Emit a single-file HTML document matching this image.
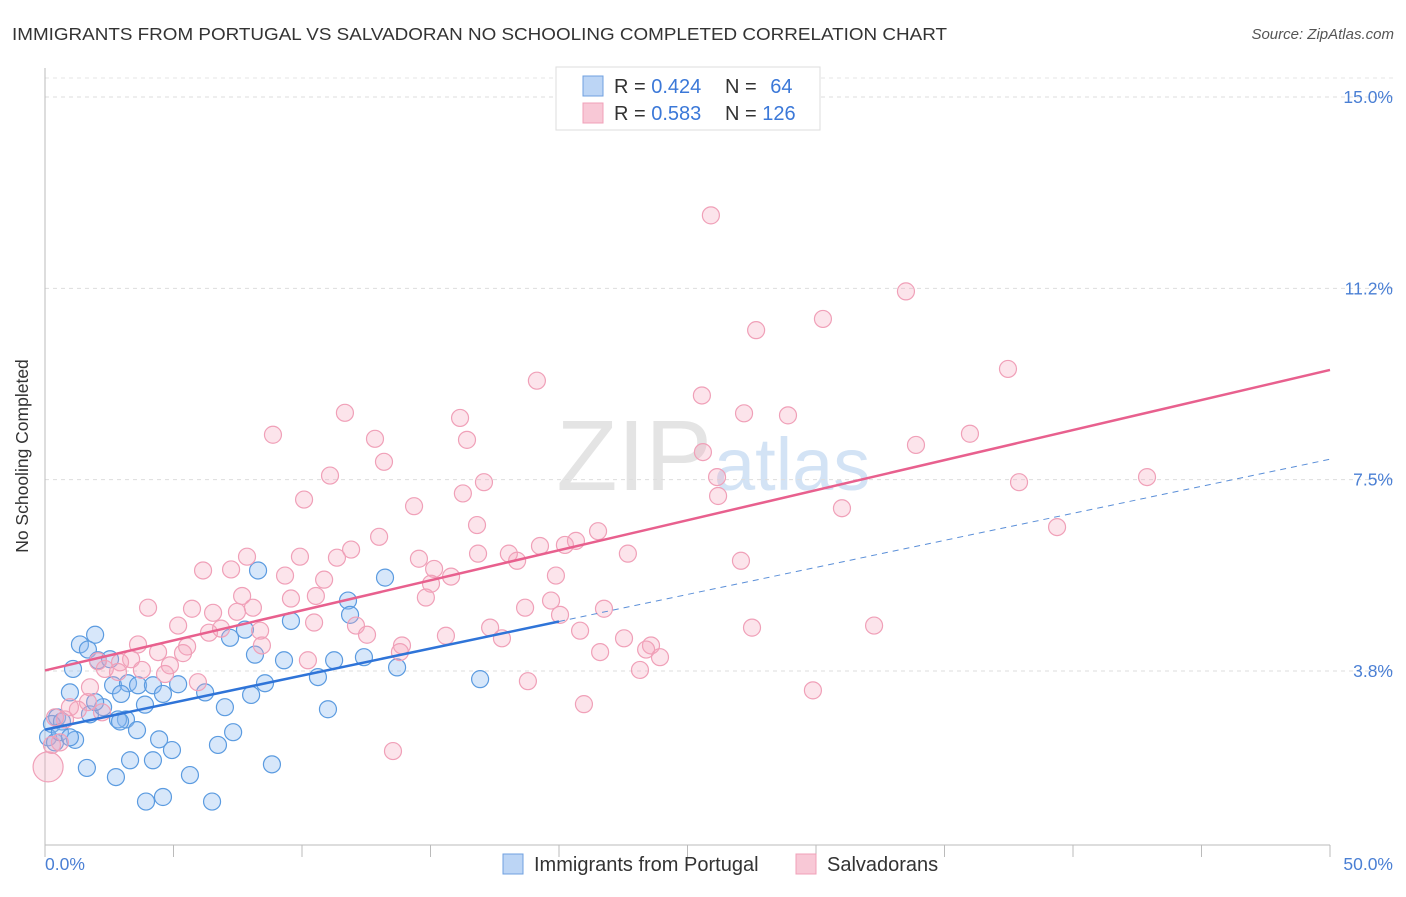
<!DOCTYPE html>
<html><head><meta charset="utf-8"><style>
body{margin:0;background:#fff;font-family:"Liberation Sans",sans-serif}
svg text{font-family:"Liberation Sans",sans-serif}
</style></head><body>
<svg id="chart" width="1406" height="892">
<text x="12" y="40" font-size="17.5" fill="#333" textLength="935" lengthAdjust="spacingAndGlyphs">IMMIGRANTS FROM PORTUGAL VS SALVADORAN NO SCHOOLING COMPLETED CORRELATION CHART</text>
<text x="1394" y="39" font-size="15" fill="#555" text-anchor="end" font-style="italic">Source: ZipAtlas.com</text>
<text x="712" y="490" font-size="100" fill="#e4e4e4" text-anchor="end" font-family="Liberation Serif">ZIP</text>
<text x="714" y="490" font-size="74" fill="#d3e3f5">atlas</text>
<g id="grid"></g>
<line x1="45" y1="68" x2="45" y2="845" stroke="#bbb"/>
<line x1="45" y1="845" x2="1330" y2="845" stroke="#bbb"/>
<g id="xt"></g>
<text x="28" y="456" font-size="17.5" fill="#333" text-anchor="middle" transform="rotate(-90 28 456)">No Schooling Completed</text>
<text x="45" y="870" font-size="17.5" fill="#4a7fd4">0.0%</text>
<text x="1393" y="870" font-size="17.5" fill="#4a7fd4" text-anchor="end">50.0%</text>
<g id="pts"></g>
<g id="lines"></g>
<g>
<rect x="556" y="67" width="264" height="63" fill="#fff" stroke="#ddd"/>
<rect x="583" y="76" width="20" height="20" fill="#bcd5f5" stroke="#6fa0e0"/>
<rect x="583" y="103" width="20" height="20" fill="#f8c8d6" stroke="#f0a0b8"/>
<text x="614" y="93" font-size="20" fill="#333">R = <tspan fill="#3b78d8">0.424</tspan></text>
<text x="725" y="93" font-size="20" fill="#333">N = <tspan fill="#3b78d8" dx="8">64</tspan></text>
<text x="614" y="120" font-size="20" fill="#333">R = <tspan fill="#3b78d8">0.583</tspan></text>
<text x="725" y="120" font-size="20" fill="#333">N = <tspan fill="#3b78d8">126</tspan></text>
</g>
<g>
<rect x="503" y="854" width="20" height="20" fill="#bcd5f5" stroke="#6fa0e0"/>
<text x="534" y="871" font-size="20" fill="#333">Immigrants from Portugal</text></g>
<g>
<rect x="796" y="854" width="20" height="20" fill="#f8c8d6" stroke="#f0a0b8"/>
<text x="827" y="871" font-size="20" fill="#333">Salvadorans</text></g>
</svg>
<script>
const yTicks=[3.75,7.5,11.25,15];
const yTickLabels=["3.8%","7.5%","11.2%","15.0%"];
const blueX=[1.95,1.36,1.67,2.06,1.09,0.97,0.47,0.27,0.12,0.39,1.17,0.66,1.75,2.26,2.65,3.23,2.96,3.15,2.84,3.62,3.89,4.20,4.59,5.18,6.23,7.20,8.29,8.17,7.78,9.57,9.30,8.56,8.02,7.00,7.32,6.73,5.64,6.50,4.59,3.93,3.31,2.76,1.63,4.20,4.44,4.94,3.58,11.25,10.62,11.01,8.83,11.79,11.87,12.41,13.70,13.23,16.93,2.53,0.58,0.97,2.92,1.95];
const blueY=[4.46,4.27,4.17,3.96,3.79,3.33,2.84,2.71,2.45,2.35,2.40,2.76,2.90,3.04,3.47,3.51,3.30,2.80,2.80,3.47,3.09,3.47,3.30,3.49,3.33,4.40,5.72,4.07,4.56,4.73,3.96,3.51,3.28,3.04,2.55,2.30,1.71,1.19,1.28,1.19,2.00,1.67,1.85,2.00,2.41,2.20,2.59,3.96,3.63,3.00,1.92,5.13,4.85,4.02,3.82,5.58,3.59,3.98,2.55,2.45,2.76,3.14];
const pinkX=[25.91,33.50,27.67,30.27,19.14,37.47,25.56,27.20,28.91,11.67,16.15,8.87,12.84,16.42,13.19,11.09,10.08,14.36,16.26,17.08,25.60,26.15,26.19,35.99,33.89,42.88,37.90,31.01,39.38,16.81,21.52,20.66,20.23,19.26,16.85,18.05,18.37,22.68,27.08,19.88,13.00,11.91,11.36,9.92,7.86,6.15,7.24,9.34,10.86,14.55,15.14,15.80,15.02,7.67,9.57,10.54,4.01,5.72,6.54,7.47,8.09,14.82,18.68,19.69,21.75,20.04,5.18,6.38,6.85,8.37,10.47,12.10,12.53,15.60,17.32,17.78,20.82,22.53,23.58,27.51,32.26,3.62,4.40,5.53,5.37,13.89,13.81,8.44,10.23,3.35,2.92,2.06,2.33,2.84,3.77,4.86,5.95,4.67,21.60,23.39,23.93,23.15,18.79,20.97,29.88,13.54,1.67,1.28,0.97,2.22,1.75,0.78,0.39,0.58,0.27,0.12];
const pinkY=[12.68,11.19,10.43,10.65,9.44,9.67,9.15,8.80,8.76,8.81,8.71,8.38,8.30,8.28,7.85,7.58,7.11,6.98,7.23,7.45,8.04,7.55,7.18,8.40,8.18,7.55,7.45,6.94,6.57,6.61,6.49,6.30,6.22,6.20,6.05,6.05,5.91,6.05,5.91,5.62,6.38,6.13,5.97,5.99,5.99,5.72,5.74,5.62,5.54,5.95,5.75,5.60,5.46,5.22,5.17,5.22,4.99,4.97,4.89,4.91,4.99,5.19,4.99,5.13,4.97,4.85,4.64,4.50,4.58,4.54,4.70,4.64,4.46,4.44,4.60,4.39,4.54,4.39,4.25,4.60,4.64,4.27,4.12,4.23,4.10,4.25,4.12,4.25,3.96,3.98,3.92,3.94,3.79,3.73,3.77,3.86,3.53,3.69,4.12,4.17,4.02,3.77,3.55,3.10,3.37,2.18,3.14,2.99,3.04,2.94,3.43,2.80,2.84,2.35,2.30,1.87];
const pinkTrend=[3.76,9.65];
const blueTrend=[2.60,7.90];
const blueSolidEnd=20.0;
const NS="http://www.w3.org/2000/svg";
const sx=v=>45+v*25.7;
const sy=v=>862.3-v*51.02;
function mk(tag,attrs,parent){const e=document.createElementNS(NS,tag);for(const k in attrs)e.setAttribute(k,attrs[k]);document.getElementById(parent).appendChild(e);return e;}
yTicks.forEach((t,i)=>{
 const l=mk('line',{x1:45,x2:1393,y1:sy(t),y2:sy(t),stroke:'#ddd','stroke-dasharray':'4,4'},'grid');
 
 
 const tx=mk('text',{x:1393,y:sy(t)+6,'font-size':17.5,fill:'#4a7fd4','text-anchor':'end'},'grid');
 tx.textContent=yTickLabels[i];
 
 
});
const topLine=mk('line',{x1:45,x2:1393,y1:78,y2:78,stroke:'#e4e4e4','stroke-dasharray':'4,4'},'grid');


for(let i=0;i<=10;i++){
 const l=mk('line',{x1:sx(i*5),x2:sx(i*5),y1:845,y2:857,stroke:'#bbb'},'xt');
 
 
}
blueX.forEach((x,i)=>{
 const c=mk('circle',{cx:sx(x),cy:sy(blueY[i]),r:8.5,fill:'rgba(140,185,240,0.35)',stroke:'#5b9be0','stroke-width':1.2},'pts');
 
 
});
pinkX.forEach((x,i)=>{
 const big=i===pinkX.length-1;
 const c=mk('circle',{cx:sx(x),cy:sy(pinkY[i]),r:big?15:8.5,fill:'rgba(245,165,190,0.3)',stroke:'#f0a0b8','stroke-width':1.2},'pts');
 
 
});
const bAt=x=>blueTrend[0]+(blueTrend[1]-blueTrend[0])*x/50;
const pl=mk('line',{x1:sx(0),y1:sy(pinkTrend[0]),x2:sx(50),y2:sy(pinkTrend[1]),stroke:'#e8608e','stroke-width':2.5},'lines');


const bl=mk('line',{x1:sx(0),y1:sy(bAt(0)),x2:sx(blueSolidEnd),y2:sy(bAt(blueSolidEnd)),stroke:'#2f74d8','stroke-width':2.5},'lines');


const bd=mk('line',{x1:sx(blueSolidEnd),y1:sy(bAt(blueSolidEnd)),x2:sx(50),y2:sy(bAt(50)),stroke:'#5b8fd8','stroke-width':1,'stroke-dasharray':'6,5'},'lines');


</script>
</body></html>
